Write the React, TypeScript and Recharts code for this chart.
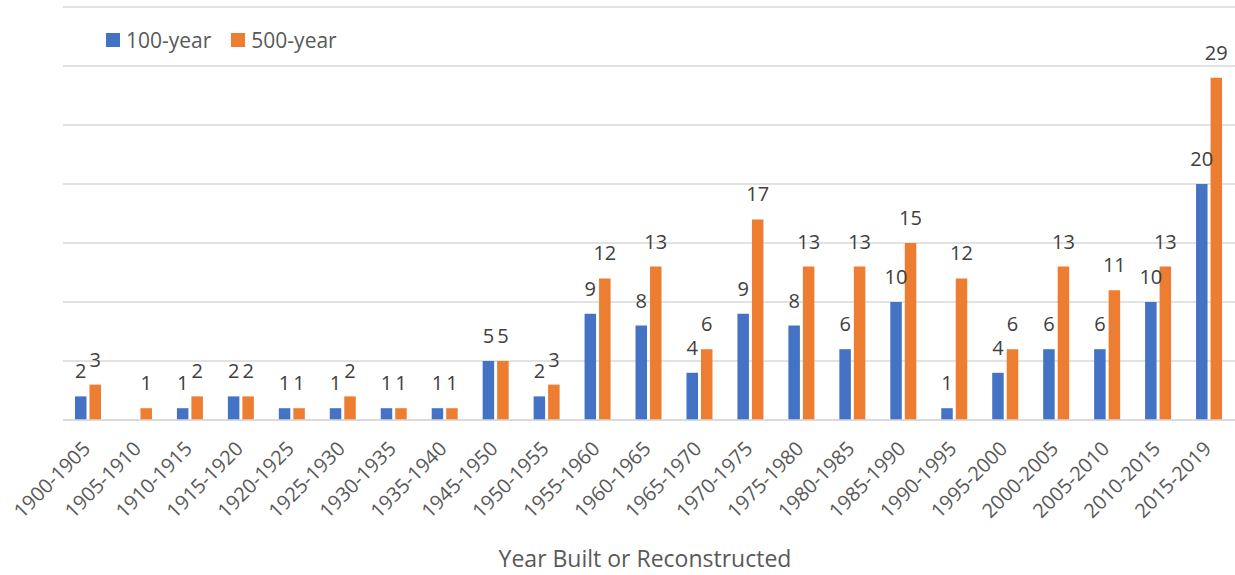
import { BarChart, Bar, XAxis, YAxis, CartesianGrid, Legend, LabelList } from 'recharts';

const periods = [
  '1900-1905', '1905-1910', '1910-1915', '1915-1920', '1920-1925', '1925-1930',
  '1930-1935', '1935-1940', '1945-1950', '1950-1955', '1955-1960', '1960-1965',
  '1965-1970', '1970-1975', '1975-1980', '1980-1985', '1985-1990', '1990-1995',
  '1995-2000', '2000-2005', '2005-2010', '2010-2015', '2015-2019',
];

const hundredYear = [2, null, 1, 2, 1, 1, 1, 1, 5, 2, 9, 8, 4, 9, 8, 6, 10, 1, 4, 6, 6, 10, 20];
const fiveHundredYear = [3, 1, 2, 2, 1, 2, 1, 1, 5, 3, 12, 13, 6, 17, 13, 13, 15, 12, 6, 13, 11, 13, 29];

const yTicks = [0, 5, 10, 15, 20, 25, 30, 35];

const data = periods.map((p, i) => ({
  period: p,
  y100: hundredYear[i],
  y500: fiveHundredYear[i],
}));

const FONT = '"Open Sans", "Noto Sans", sans-serif';
const BLUE = '#4472C4';
const ORANGE = '#ED7D31';

const renderTick = (props: any) => {
  const { x, y, payload } = props;
  return (
    <g transform={`translate(${x + 3},${y + 30})`}>
      <text
        x={0}
        y={0}
        textAnchor="end"
        transform="rotate(-45)"
        fill="#595959"
        fontSize={20}
        fontFamily={FONT}
      >
        {payload.value}
      </text>
    </g>
  );
};

const renderLabel = (props: any) => {
  const { x, y, width, value } = props;
  if (value == null) return null;
  return (
    <text
      x={x + width / 2}
      y={y - 18}
      textAnchor="middle"
      fill="#404040"
      fontSize={20}
      fontFamily={FONT}
    >
      {value}
    </text>
  );
};

const renderLegend = () => (
  <div style={{ display: 'flex', alignItems: 'center', fontFamily: FONT, fontSize: 21, color: '#595959', whiteSpace: 'nowrap' }}>
    <span style={{ width: 14, height: 14, background: BLUE, display: 'inline-block', marginRight: 6 }} />
    <span style={{ marginRight: 20 }}>100-year</span>
    <span style={{ width: 14, height: 14, background: ORANGE, display: 'inline-block', marginRight: 6 }} />
    <span>500-year</span>
  </div>
);

export default function App() {
  return (
    <div style={{ width: 1235, height: 575, background: '#fff' }}>
      <style>{'body{margin:0}'}</style>
      <BarChart
        width={1235}
        height={575}
        data={data}
        margin={{ top: 7, right: 0, bottom: 0, left: 63 }}
        barSize={11.5}
        barGap={3}
      >
        <CartesianGrid vertical={false} stroke="#D9D9D9" strokeWidth={1.5} />
        <YAxis hide type="number" domain={[0, 35]} ticks={yTicks} />
        <XAxis
          dataKey="period"
          height={155}
          interval={0}
          tickLine={false}
          tickSize={0}
          tickMargin={0}
          axisLine={{ stroke: '#D9D9D9', strokeWidth: 1.5 }}
          tick={renderTick}
          label={{
            value: 'Year Built or Reconstructed',
            position: 'insideBottom',
            offset: 8,
            dx: -4,
            fill: '#595959',
            fontSize: 23,
            fontFamily: FONT,
          }}
        />
        <Legend
          layout="vertical"
          verticalAlign="middle"
          align="center"
          content={renderLegend}
          wrapperStyle={{ top: 26, left: 106, width: 'auto' }}
        />
        <Bar dataKey="y100" name="100-year" fill={BLUE} isAnimationActive={false}>
          <LabelList dataKey="y100" content={renderLabel} />
        </Bar>
        <Bar dataKey="y500" name="500-year" fill={ORANGE} isAnimationActive={false}>
          <LabelList dataKey="y500" content={renderLabel} />
        </Bar>
      </BarChart>
    </div>
  );
}
